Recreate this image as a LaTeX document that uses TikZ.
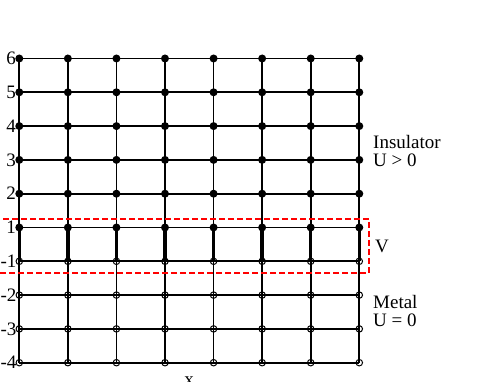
\documentclass[tikz,border=0pt]{standalone}
\usepackage{fontspec}
\setmainfont{Liberation Serif}
\usetikzlibrary{positioning, backgrounds}

\begin{document}
\begin{tikzpicture}[x=1pt, y=1pt,
  every node/.style={font=\fontsize{19}{18}\selectfont, inner sep=0pt},
  site/.style={circle, fill=black, minimum size=8pt},
  hole/.style={circle, draw=black, line width=1pt, minimum size=6.5pt},
  bond/.style={line width=1.8pt},
  link/.style={line width=3.4pt},
  gate/.style={draw=red, line width=1.2pt, dash pattern=on 6pt off 3pt}
]
\useasboundingbox (0,0) rectangle (491,382);
\def\colW{48.57} \def\rowH{33.8}
% sites: rows 0-5 insulator (filled), rows 6-9 metal (open)
\foreach \i/\lab in {0/6,1/5,2/4,3/3,4/2,5/1,6/-1,7/-2,8/-3,9/-4}{
  \foreach \j in {0,...,7}{
    \ifnum\i<6
      \node[site] (s-\j-\i) at ({19.3+\j*\colW},{323.5-\i*\rowH}) {};
    \else
      \node[hole] (s-\j-\i) at ({19.3+\j*\colW},{323.5-\i*\rowH}) {};
    \fi
  }
  \node[anchor=east, xshift=1pt] (lab-\i) at (s-0-\i.west) {\lab};
}
\begin{scope}[on background layer]
\foreach \i in {0,...,8}
  \draw[bond] (s-0-\i.center) -- (s-7-\i.center);
\draw[bond, line width=2.3pt] (s-0-9.center) -- (s-7-9.center);
\foreach \j in {0,...,7}{
  \draw[bond] (s-\j-0.center) -- (s-\j-5.center);
  \draw[link] (s-\j-5.center) -- (s-\j-6.center);
  \draw[bond] (s-\j-6.center) -- (s-\j-9.center);
}
\end{scope}
\draw[gate] (-6,109) rectangle (369,163);
\node[align=left, anchor=base west] (ins) at (373,215) {Insulator\\U > 0};
\node[anchor=base west] (vlab) at (375,129) {V};
\node[align=left, anchor=base west] (met) at (373,55) {Metal\\U = 0};
\node[anchor=base] (xlab) at (189,-4) {x};
\end{tikzpicture}
\end{document}
